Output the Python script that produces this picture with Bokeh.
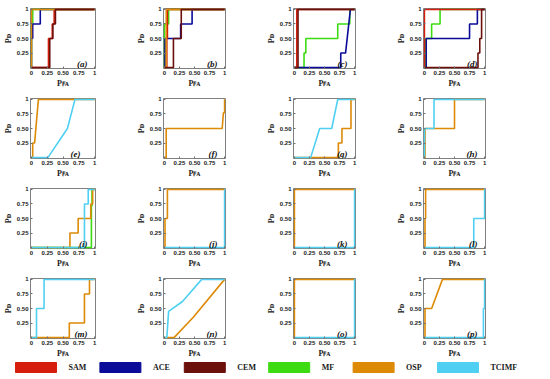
from bokeh.plotting import figure
from bokeh.layouts import column, row
from bokeh.models import FixedTicker, Label, Range1d
from bokeh.embed import file_html
from bokeh.resources import INLINE
from bokeh.core.properties import value

# ---------------- data (ROC curves) ----------------
METHODS = ["SAM", "ACE", "CEM", "MF", "OSP", "TCIMF"]
PANEL_LETTERS = ["(a)", "(b)", "(c)", "(d)", "(e)", "(f)", "(g)", "(h)",
                 "(i)", "(j)", "(k)", "(l)", "(m)", "(n)", "(o)", "(p)"]

X_TICKS = [0, 0.25, 0.5, 0.75, 1]
X_TICK_LABELS = ["0", "0.25", "0.50", "0.75", "1"]
Y_TICKS = [0.25, 0.5, 0.75, 1]
Y_TICK_LABELS = ["0.25", "0.50", "0.75", "1"]
X_LABEL = "P\ua730\u1d00"   # P_FA
Y_LABEL = "P\u1d05"         # P_D

# (a)
a_SAM = [(0, 0), (0.27, 0), (0.27, 0.5), (0.33, 0.5), (0.33, 0.75), (0.36, 0.75), (0.36, 1), (1, 1)]
a_ACE = [(0, 0), (0, 0.5), (0.02, 0.5), (0.02, 0.75), (0.14, 0.75), (0.14, 1), (1, 1)]
a_CEM = [(0, 0), (0.29, 0), (0.29, 0.5), (0.34, 0.5), (0.34, 0.75), (0.38, 0.75), (0.38, 1), (1, 1)]
a_MF = [(0, 0), (0, 0.75), (0.02, 0.75), (0.02, 1), (1, 1)]
a_OSP = [(0, 0), (0, 1), (1, 1)]
# (b)
b_SAM = [(0, 0), (0.04, 0), (0.04, 0.5), (0.05, 0.5), (0.05, 1), (1, 1)]
b_ACE = [(0, 0), (0.01, 0), (0.01, 0.5), (0.27, 0.5), (0.27, 0.75), (0.46, 0.75), (0.46, 1), (1, 1)]
b_CEM = [(0, 0), (0.15, 0), (0.15, 0.5), (0.28, 0.5), (0.28, 1), (1, 1)]
b_MF = [(0, 0), (0, 0.75), (0.07, 0.75), (0.07, 1), (1, 1)]
b_OSP = [(0, 0), (0.03, 0), (0.03, 1), (1, 1)]
# (c)
c_SAM = [(0, 0), (0.04, 0), (0.04, 1), (1, 1)]
c_ACE = [(0, 0), (0.77, 0), (0.77, 0.25), (0.85, 0.25), (0.93, 1), (1, 1)]
c_CEM = [(0, 0), (0.06, 0), (0.06, 1), (1, 1)]
c_MF = [(0, 0), (0.16, 0), (0.16, 0.25), (0.19, 0.25), (0.19, 0.5), (0.72, 0.5),
        (0.72, 0.75), (0.92, 0.75), (0.92, 1), (1, 1)]
# (d)
d_SAM = [(0, 0), (0, 1), (1, 1)]
d_ACE = [(0, 0), (0.03, 0), (0.03, 0.5), (0.75, 0.5), (0.75, 0.75), (0.88, 0.75), (0.88, 1), (1, 1)]
d_CEM = [(0, 0), (0.89, 0), (0.89, 0.25), (0.92, 0.25), (0.92, 0.5), (0.95, 0.5), (0.95, 1), (1, 1)]
d_MF = [(0, 0), (0.02, 0), (0.02, 0.5), (0.12, 0.5), (0.12, 0.75), (0.26, 0.75), (0.26, 1), (1, 1)]
# (e)
e_OSP = [(0, 0), (0.02, 0), (0.02, 0.25), (0.05, 0.25), (0.11, 1), (1, 1)]
e_TCIMF = [(0, 0), (0.26, 0), (0.57, 0.5), (0.69, 1), (1, 1)]
# (f)
f_OSP = [(0, 0), (0.03, 0), (0.03, 0.5), (0.96, 0.5), (0.98, 0.77), (1, 0.77), (1, 1)]
# (g)
g_OSP = [(0, 0), (0.73, 0), (0.73, 0.25), (0.79, 0.25), (0.79, 0.5), (0.94, 0.5), (0.94, 1), (1, 1)]
g_TCIMF = [(0, 0), (0.27, 0), (0.42, 0.5), (0.62, 0.5), (0.72, 1), (1, 1)]
# (h)
h_OSP = [(0, 0), (0.01, 0), (0.01, 0.5), (0.5, 0.5), (0.5, 1), (1, 1)]
h_TCIMF = [(0, 0), (0, 0.5), (0.16, 0.5), (0.16, 1), (1, 1)]
# (i)
i_MF = [(0, 0), (0.95, 0), (0.95, 0.72), (0.96, 0.72), (0.96, 1), (1, 1)]
i_OSP = [(0, 0), (0.61, 0), (0.61, 0.25), (0.74, 0.25), (0.74, 0.5), (0.94, 0.5),
         (0.94, 0.75), (0.97, 0.75), (0.97, 1), (1, 1)]
i_TCIMF = [(0, 0), (0.84, 0), (0.84, 0.75), (0.9, 0.75), (0.9, 1), (1, 1)]
# (j)
j_OSP = [(0, 0), (0.01, 0), (0.01, 0.5), (0.05, 0.5), (0.05, 1), (1, 1)]
j_TCIMF = [(0, 0), (1, 0), (1, 1)]
# (k)
k_OSP = [(0, 0), (0, 1), (1, 1)]
k_TCIMF = [(0, 0), (1, 0), (1, 1)]
# (l)
l_OSP = [(0, 0), (0.01, 0), (0.01, 0.5), (0.02, 0.5), (0.02, 1), (1, 1)]
l_TCIMF = [(0, 0), (0.82, 0), (0.82, 0.5), (1, 0.5), (1, 1)]
# (m)
m_OSP = [(0, 0), (0.6, 0), (0.6, 0.25), (0.84, 0.25), (0.84, 0.75), (0.92, 0.75), (0.92, 1), (1, 1)]
m_TCIMF = [(0, 0), (0.08, 0), (0.08, 0.5), (0.2, 0.5), (0.2, 1), (1, 1)]
# (n)
n_OSP = [(0, 0), (0.16, 0), (0.48, 0.35), (1, 1)]
n_TCIMF = [(0, 0), (0.04, 0), (0.07, 0.45), (0.3, 0.62), (0.62, 1), (1, 1)]
# (o)
o_OSP = [(0, 0), (0, 1), (1, 1)]
o_TCIMF = [(0, 0), (1, 0), (1, 1)]
# (p)
p_OSP = [(0, 0), (0.01, 0), (0.01, 0.5), (0.12, 0.5), (0.3, 1), (1, 1)]
p_TCIMF = [(0, 0), (0.98, 0), (0.98, 0.5), (1, 0.5), (1, 1)]

PANEL_CURVES = [
    {"SAM": a_SAM, "ACE": a_ACE, "CEM": a_CEM, "MF": a_MF, "OSP": a_OSP},
    {"SAM": b_SAM, "ACE": b_ACE, "CEM": b_CEM, "MF": b_MF, "OSP": b_OSP},
    {"SAM": c_SAM, "ACE": c_ACE, "CEM": c_CEM, "MF": c_MF},
    {"SAM": d_SAM, "ACE": d_ACE, "CEM": d_CEM, "MF": d_MF},
    {"OSP": e_OSP, "TCIMF": e_TCIMF},
    {"OSP": f_OSP},
    {"OSP": g_OSP, "TCIMF": g_TCIMF},
    {"OSP": h_OSP, "TCIMF": h_TCIMF},
    {"MF": i_MF, "OSP": i_OSP, "TCIMF": i_TCIMF},
    {"OSP": j_OSP, "TCIMF": j_TCIMF},
    {"OSP": k_OSP, "TCIMF": k_TCIMF},
    {"OSP": l_OSP, "TCIMF": l_TCIMF},
    {"OSP": m_OSP, "TCIMF": m_TCIMF},
    {"OSP": n_OSP, "TCIMF": n_TCIMF},
    {"OSP": o_OSP, "TCIMF": o_TCIMF},
    {"OSP": p_OSP, "TCIMF": p_TCIMF},
]

# ---------------- styling ----------------
COLORS = {"SAM": "#D51F0C", "ACE": "#0B0B99", "CEM": "#6C100B",
          "MF": "#3DDB12", "OSP": "#DD8A06", "TCIMF": "#4FD0F2"}
DRAW_ORDER = ["MF", "ACE", "SAM", "OSP", "TCIMF", "CEM"]
TICK_FONT = "Liberation Sans"
SERIF = "Liberation Serif"
LETTER_XOFF = {"(e)": -14}
PAD = 0.015


def make_panel(idx):
    r, c = divmod(idx, 4)
    left = 27 if c == 0 else 24
    width = left + 68 + 38
    p = figure(width=width, height=90,
               x_range=Range1d(-PAD, 1 + PAD), y_range=Range1d(-PAD, 1 + PAD),
               output_backend="svg", toolbar_location=None,
               min_border_left=left, min_border_right=38,
               min_border_top=8, min_border_bottom=19)
    p.grid.visible = False
    p.outline_line_color = "#808080"
    p.outline_line_width = 1

    p.xaxis.ticker = FixedTicker(ticks=X_TICKS)
    p.xaxis.major_label_overrides = dict(zip(X_TICKS, X_TICK_LABELS))
    p.yaxis.ticker = FixedTicker(ticks=Y_TICKS)
    p.yaxis.major_label_overrides = dict(zip(Y_TICKS, Y_TICK_LABELS))
    p.xaxis.axis_label = X_LABEL
    p.yaxis.axis_label = Y_LABEL
    for ax in (p.xaxis, p.yaxis):
        ax.axis_line_color = None
        ax.major_tick_in = 2
        ax.major_tick_out = 0
        ax.major_tick_line_color = "#707070"
        ax.minor_tick_line_color = None
        ax.major_label_text_font = TICK_FONT
        ax.major_label_text_font_style = "bold"
        ax.major_label_text_font_size = "6px"
        ax.major_label_text_color = "#1a1a1a"
        ax.major_label_standoff = 2
        ax.axis_label_text_font = SERIF
        ax.axis_label_text_font_style = "bold"
        ax.axis_label_text_font_size = "8px"
        ax.axis_label_text_color = "#1a1a1a"
        ax.axis_label_standoff = 1

    curves = PANEL_CURVES[idx]
    for m in DRAW_ORDER:
        if m in curves:
            xs = [pt[0] for pt in curves[m]]
            ys = [pt[1] for pt in curves[m]]
            p.line(xs, ys, line_color=COLORS[m], line_width=1.6)

    letter = PANEL_LETTERS[idx]
    p.add_layout(Label(x=1, y=0, text=letter, text_align="right", text_baseline="alphabetic",
                       x_offset=LETTER_XOFF.get(letter, -7), y_offset=4, text_font=SERIF,
                       text_font_style="bold italic", text_font_size="9px",
                       text_color="#111111"))
    return p


panels = [make_panel(i) for i in range(16)]
rows = [row(*panels[4 * k:4 * k + 4]) for k in range(4)]

# ---------------- legend strip (one box + name per method) ----------------
ITEM_PX = 84.4
LEG_W = 523
LEG_LEFT_PX = 15
lf = figure(width=LEG_W, height=19,
            x_range=Range1d(-LEG_LEFT_PX / ITEM_PX, (LEG_W - LEG_LEFT_PX) / ITEM_PX),
            y_range=Range1d(0, 19),
            x_axis_type=None, y_axis_type=None, output_backend="svg",
            toolbar_location=None, min_border=0, outline_line_color=None)
idx = list(range(len(METHODS)))
lf.quad(left=idx, right=[i + 41 / ITEM_PX for i in idx], bottom=7, top=17,
        fill_color=[COLORS[m] for m in METHODS], line_color=[COLORS[m] for m in METHODS])
lf.text(x=[i + 53 / ITEM_PX for i in idx], y=12, text=METHODS,
        text_font=value(SERIF), text_font_style="bold", text_font_size="8px",
        text_baseline="middle", text_align="left", text_color="#1a1a1a")

layout = column(*rows, lf)
open("out.html", "w").write(file_html(layout, INLINE))
